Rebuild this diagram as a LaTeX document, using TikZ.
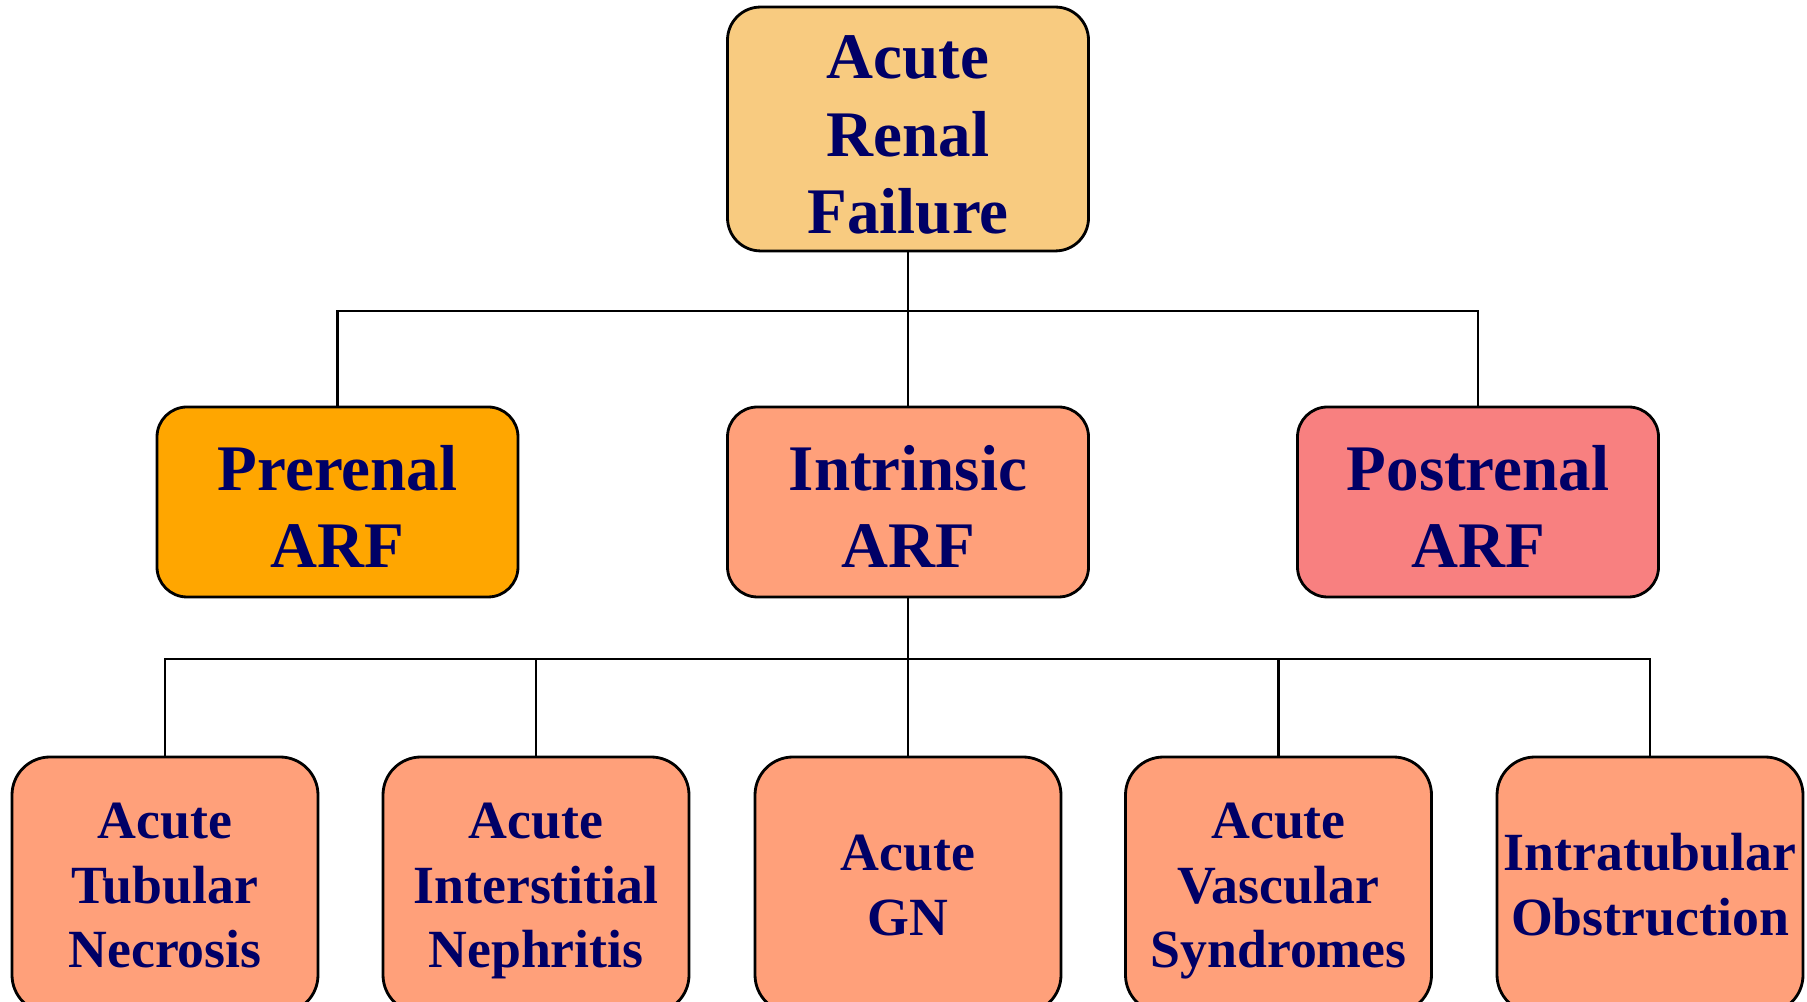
\documentclass[tikz,border=0pt]{standalone}
\usepackage{fontspec}
\setmainfont{Liberation Serif}
\usepackage{tikz}
\usetikzlibrary{positioning}
\usetikzlibrary{calc}

\definecolor{arfnavy}{RGB}{0,0,102}
\definecolor{arftop}{RGB}{248,203,128}
\definecolor{arfpre}{RGB}{255,166,0}
\definecolor{arfintr}{RGB}{255,160,122}
\definecolor{arfpost}{RGB}{248,128,128}

% struts for first and last line of a box
\newlength{\arfhi}
\newcommand{\arfa}{\rule{0pt}{\arfhi}}
\newcommand{\arfb}{\rule[-0.27em]{0pt}{0.27em}}

\begin{document}
\begin{tikzpicture}[line width=0.8pt,
        box_style/.style={draw=black,rounded corners=0.33cm,align=center,inner sep=0pt,
            text=arfnavy,font=\bfseries\fontsize{18.5}{22}\selectfont,
            execute at begin node={\setlength{\arfhi}{20.4pt}}},
        mid_style/.style={box_style,minimum width=3.61cm,minimum height=1.90cm,rounded corners=0.3cm},
        low_style/.style={box_style,fill=arfintr,minimum width=3.06cm,minimum height=2.56cm,
            rounded corners=0.38cm,font=\bfseries\fontsize{15.3}{18.4}\selectfont,
            execute at begin node={\setlength{\arfhi}{14.4pt}}},
        link_style/.style={draw=black,line width=0.6pt}]

        \useasboundingbox (0,0) rectangle (18.07,10.02);

        \node [box_style,fill=arftop,minimum width=3.61cm,minimum height=2.42cm](arf) at (9.08,8.73) {\arfa Acute\\Renal\\Failure\arfb};

        \node [mid_style,fill=arfpre](pre) at (3.375,5.00) {\arfa Prerenal\\ARF\arfb};

        \node [mid_style,fill=arfintr](intr) at (9.08,5.00) {\arfa Intrinsic\\ARF\arfb};

        \node [mid_style,fill=arfpost](post) at (14.78,5.00) {\arfa Postrenal\\ARF\arfb};

        \node [low_style](atn) at (1.65,1.17) {\arfa Acute\\Tubular\\Necrosis\arfb};

        \node [low_style](ain) at (5.36,1.17) {\arfa Acute\\Interstitial\\Nephritis\arfb};

        \node [low_style](agn) at (9.08,1.17) {\arfa Acute\\GN\arfb};

        \node [low_style](avs) at (12.785,1.17) {\arfa Acute\\Vascular\\Syndromes\arfb};

        \node [low_style](ito) at (16.50,1.17) {\arfa Intratubular\\Obstruction\arfb};

        % bus lines
        \coordinate (bus1) at (9.08,6.91);
        \coordinate (bus2) at (9.08,3.43);

        \draw [link_style] (arf.south) -- (bus1) -| (pre.north);
        \draw [link_style] (bus1) -| (post.north);
        \draw [link_style] (bus1) -- (intr.north);

        \draw [link_style] (intr.south) -- (bus2) -| (atn.north);
        \draw [link_style] (bus2) -| (ain.north);
        \draw [link_style] (bus2) -- (agn.north);
        \draw [link_style] (bus2) -| (avs.north);
        \draw [link_style] (bus2) -| (ito.north);

        \end{tikzpicture}
\end{document}
